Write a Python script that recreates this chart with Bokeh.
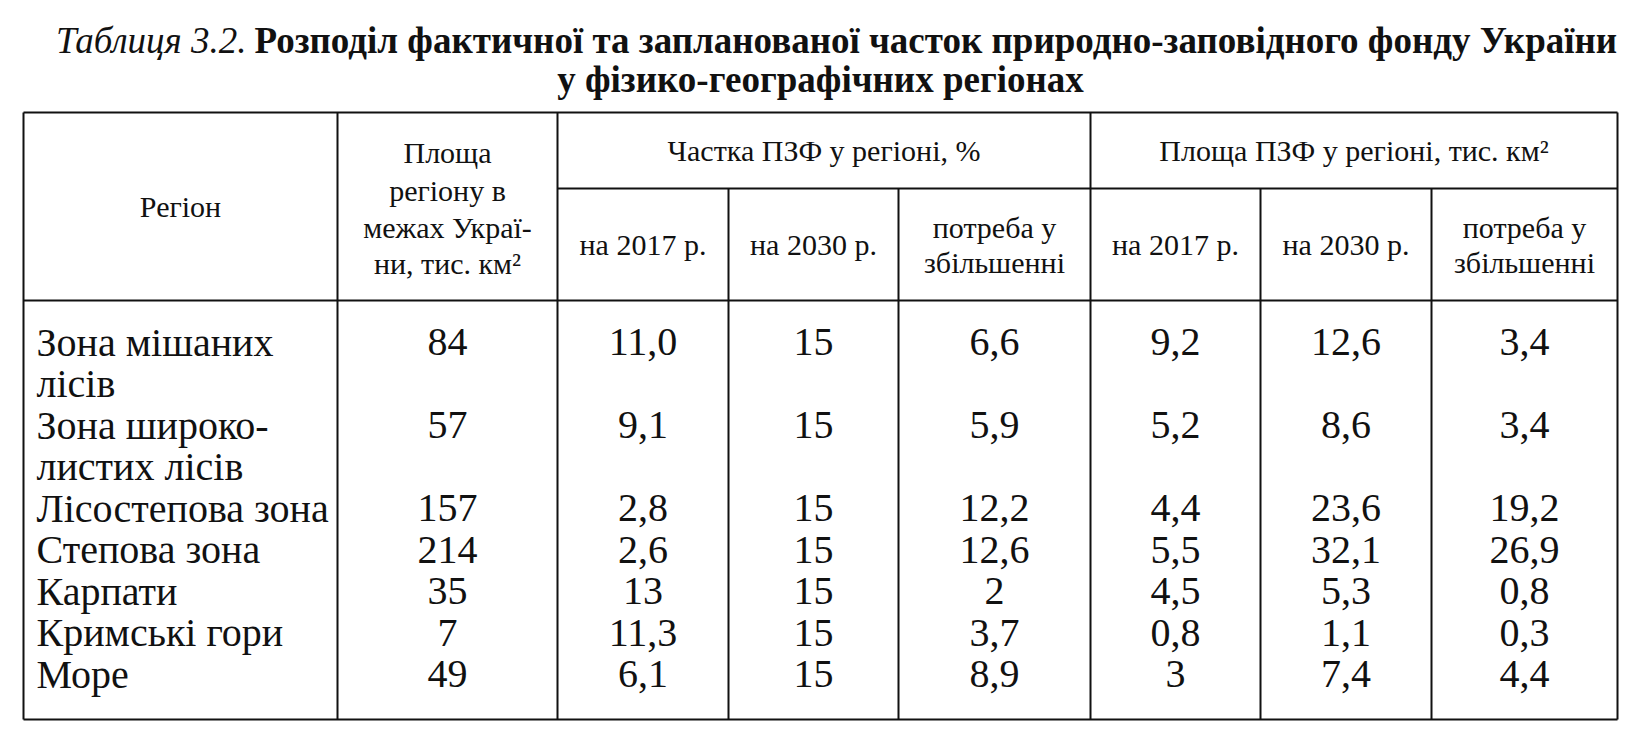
from bokeh.plotting import figure
from bokeh.models import Range1d
from bokeh.core.properties import value
from bokeh.embed import file_html
from bokeh.resources import INLINE

# ---------------- data ----------------
title_lead = "Таблиця 3.2."
title_main = "Розподіл фактичної та запланованої часток природно-заповідного фонду України"
title_line2 = "у фізико-географічних регіонах"

head_region = "Регіон"
head_area = ["Площа", "регіону в", "межах Украї-", "ни, тис. км²"]
head_share = "Частка ПЗФ у регіоні, %"
head_pzf = "Площа ПЗФ у регіоні, тис. км²"
sub_heads = ["на 2017 р.", "на 2030 р.", ["потреба у", "збільшенні"]]

regions = [["Зона мішаних", "лісів"], ["Зона широко-", "листих лісів"],
           ["Лісостепова зона"], ["Степова зона"], ["Карпати"],
           ["Кримські гори"], ["Море"]]
area_region = [84, 57, 157, 214, 35, 7, 49]
share_2017 = [11.0, 9.1, 2.8, 2.6, 13, 11.3, 6.1]
share_2030 = [15, 15, 15, 15, 15, 15, 15]
share_need = [6.6, 5.9, 12.2, 12.6, 2, 3.7, 8.9]
pzf_2017 = [9.2, 5.2, 4.4, 5.5, 4.5, 0.8, 3]
pzf_2030 = [12.6, 8.6, 23.6, 32.1, 5.3, 1.1, 7.4]
pzf_need = [3.4, 3.4, 19.2, 26.9, 0.8, 0.3, 4.4]

# ---------------- layout ----------------
W, H = 1622, 726

def F():
    return value("Liberation Serif")

p = figure(width=W, height=H, x_range=Range1d(0, W), y_range=Range1d(H, 0),
           output_backend="svg", toolbar_location=None, min_border=0)
p.axis.visible = False
p.grid.visible = False
p.outline_line_color = None
p.background_fill_color = "white"
p.border_fill_color = "white"

def fmt(v):
    return str(v).replace(".", ",")

# table geometry
L, R, T, B = 23, 1617, 112, 719
HB, SH = 300, 188
vx_full = [337, 557, 1090]
vx_sub = [728, 898, 1260, 1431]
col_edges = [L, 337, 557, 728, 898, 1090, 1260, 1431, R]
centers = [(col_edges[i] + col_edges[i + 1]) / 2 for i in range(len(col_edges) - 1)]

x0 = [L, R, L, L, L, 557] + vx_full + vx_sub
y0 = [T, T, T, B, HB, SH] + [T] * 3 + [SH] * 4
x1 = [L, R, R, R, R, R] + vx_full + vx_sub
y1 = [B, B, T, B, HB, SH] + [B] * 3 + [B] * 4
p.segment(x0=x0, y0=y0, x1=x1, y1=y1, line_color="#111111", line_width=2)

# title
p.text(x=[246], y=[40], text=[title_lead], text_font=F(), text_font_style="italic",
       text_font_size="37px", text_align="right", text_baseline="middle", text_color="#111111")
p.text(x=[254], y=[40], text=[title_main], text_font=F(), text_font_style="bold",
       text_font_size="37px", text_align="left", text_baseline="middle", text_color="#111111")
p.text(x=[(L + R) / 2], y=[79], text=[title_line2], text_font=F(), text_font_style="bold",
       text_font_size="37px", text_align="center", text_baseline="middle", text_color="#111111")

# header
HF = "30px"
def htext(xs, ys, ts):
    p.text(x=xs, y=ys, text=ts, text_font=F(), text_font_size=HF, text_align="center",
           text_baseline="middle", text_color="#111111")

htext([centers[0]], [(T + HB) / 2], [head_region])
htext([centers[1]] * 4, [152, 190, 227, 263], head_area)
htext([(557 + 1090) / 2, (1090 + R) / 2], [150, 150], [head_share, head_pzf])
for g in range(2):
    for k, sh in enumerate(sub_heads):
        cx = centers[2 + g * 3 + k]
        if isinstance(sh, list):
            htext([cx, cx], [227, 262], sh)
        else:
            htext([cx], [244], [sh])

# body
BF = "40px"
start, pitch = 341.6, 41.5
line = 0
row_y = []
name_x, name_y, name_t = [], [], []
for r in regions:
    row_y.append(start + pitch * line)
    for j, t in enumerate(r):
        name_x.append(36)
        name_y.append(start + pitch * (line + j))
        name_t.append(t)
    line += len(r)

p.text(x=name_x, y=name_y, text=name_t, text_font=F(), text_font_size=BF,
       text_align="left", text_baseline="middle", text_color="#111111")

cols = [area_region, share_2017, share_2030, share_need, pzf_2017, pzf_2030, pzf_need]
for c, vals in enumerate(cols):
    p.text(x=[centers[c + 1]] * len(vals), y=row_y, text=[fmt(v) for v in vals],
           text_font=F(), text_font_size=BF, text_align="center", text_baseline="middle",
           text_color="#111111")

open("out.html", "w").write(file_html(p, INLINE))
